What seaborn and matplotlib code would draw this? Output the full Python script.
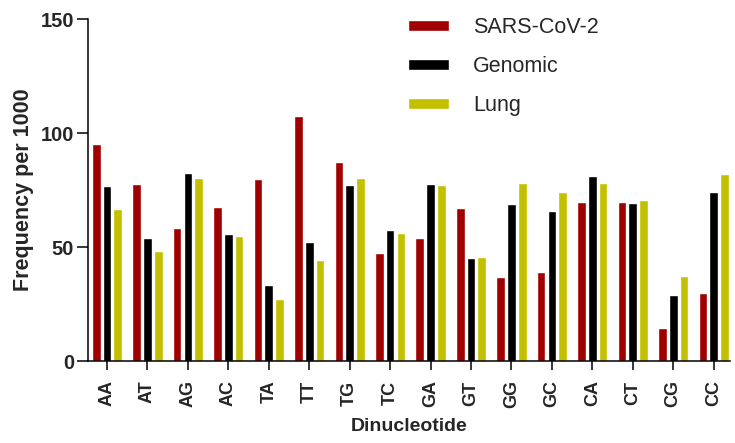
import numpy as np
import pandas as pd
import matplotlib
matplotlib.use("Agg")
import matplotlib.pyplot as plt
import seaborn as sns

# values (frequency per 1000)
dinucleotides = ["AA", "AT", "AG", "AC", "TA", "TT", "TG", "TC",
                 "GA", "GT", "GG", "GC", "CA", "CT", "CG", "CC"]
sars_cov2 = [95.0, 77.5, 58.2, 67.4, 79.7, 107.3, 87.2, 47.2,
             53.8, 67.0, 36.7, 38.9, 69.6, 69.6, 14.3, 29.7]
genomic = [76.6, 53.8, 82.3, 55.6, 33.2, 52.1, 77.1, 57.3,
           77.5, 45.0, 68.7, 65.7, 81.0, 69.2, 28.8, 74.0]
lung = [66.5, 48.1, 80.1, 54.7, 27.1, 44.2, 80.1, 56.0,
        77.1, 45.5, 78.0, 74.0, 78.0, 70.5, 37.2, 81.9]
series_names = ["SARS-CoV-2", "Genomic", "Lung"]
colors = ["#A00000", "#000000", "#C3C000"]

# long format for seaborn
df = pd.DataFrame({
    "Dinucleotide": dinucleotides * 3,
    "Frequency": sars_cov2 + genomic + lung,
    "Source": np.repeat(series_names, len(dinucleotides)),
})

sns.set_style("ticks")
plt.rcParams['font.family'] = ['Liberation Sans', 'DejaVu Sans']

fig = plt.figure(figsize=(7.35, 4.43), dpi=100)
ax = fig.add_axes([0.1197, 0.185, 0.8733, 0.772])

sns.barplot(data=df, x="Dinucleotide", y="Frequency", hue="Source",
            order=dinucleotides, hue_order=series_names, palette=colors,
            width=0.8, gap=0.2, saturation=1, ax=ax)

ax.set_ylim(0, 150)
ax.set_yticks([0, 50, 100, 150])
ax.set_xlim(-0.47, 15.4)
ax.set_xlabel("Dinucleotide", fontsize=14, fontweight="bold", labelpad=7)
ax.set_ylabel("Frequency per 1000", fontsize=15.5, fontweight="bold", labelpad=5)

for lbl in ax.get_yticklabels():
    lbl.set_fontweight("bold")
    lbl.set_fontsize(14.5)
for lbl in ax.get_xticklabels():
    lbl.set_fontweight("bold")
    lbl.set_fontsize(13)
    lbl.set_rotation(90)

ax.tick_params(axis="y", length=8, width=1.1, color="black", pad=2)
ax.tick_params(axis="x", length=6.5, width=1.1, color="black", pad=7.5)
for side in ["left", "bottom"]:
    ax.spines[side].set_linewidth(1.1)
    ax.spines[side].set_color("black")
sns.despine(ax=ax)

handles, labels = ax.get_legend_handles_labels()
ax.legend(handles, labels, loc="upper left", bbox_to_anchor=(0.469, 1.062),
          frameon=False, fontsize=15.5, handlelength=1.9, handleheight=0.42,
          handletextpad=1.1, labelspacing=0.84)

fig.savefig("out.png", dpi=100)
